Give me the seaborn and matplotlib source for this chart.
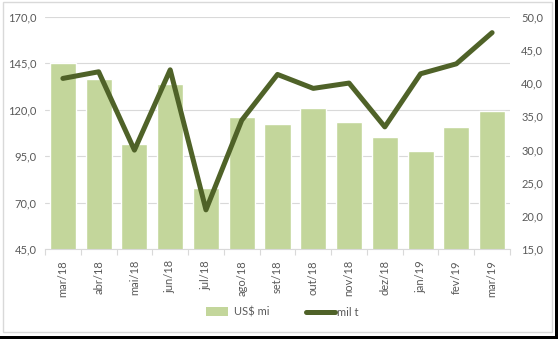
import matplotlib
matplotlib.use("Agg")
import matplotlib.pyplot as plt
import seaborn as sns
import pandas as pd
from matplotlib.patches import Rectangle
from matplotlib.lines import Line2D
from matplotlib.ticker import FixedLocator, FuncFormatter

months = ["mar/18", "abr/18", "mai/18", "jun/18", "jul/18", "ago/18", "set/18",
          "out/18", "nov/18", "dez/18", "jan/19", "fev/19", "mar/19"]
usd_mi = [145.0, 136.6, 101.6, 133.9, 77.7, 115.9, 112.1,
          120.7, 113.2, 105.1, 97.7, 110.5, 119.1]
mil_t = [40.7, 41.7, 29.9, 42.0, 20.9, 34.4, 41.3,
         39.2, 40.0, 33.4, 41.4, 42.9, 47.6]

bar_color = "#C3D69B"
line_color = "#4F6228"
text_color = "#595959"
grid_color = "#D9D9D9"

sns.set_theme(style="white")
plt.rcParams["font.family"] = ["Lato", "DejaVu Sans"]

df = pd.DataFrame({"mes": months, "US$ mi": usd_mi, "mil t": mil_t})
df["pos"] = range(len(months))

fig = plt.figure(figsize=(5.58, 3.39), dpi=100)
ax = fig.add_axes([45 / 558, 1 - 249 / 339, 465 / 558, (249 - 16.7) / 339])

sns.barplot(data=df, x="mes", y="US$ mi", color=bar_color, width=0.73,
            saturation=1, ax=ax, zorder=2)
ax.set_ylim(45, 170)
ax.set_xlim(-0.5, len(months) - 0.5)
ax.yaxis.set_major_locator(FixedLocator([45, 70, 95, 120, 145, 170]))
ax.yaxis.set_major_formatter(FuncFormatter(lambda v, p: f"{v:.1f}".replace(".", ",")))
ax.grid(axis="y", color=grid_color, linewidth=0.8, zorder=0)
ax.set_axisbelow(True)
ax.set_xlabel("")
ax.set_ylabel("")
for s in ["top", "right", "left"]:
    ax.spines[s].set_visible(False)
ax.spines["bottom"].set_color(grid_color)
ax.spines["bottom"].set_linewidth(0.8)
ax.tick_params(axis="y", length=0, labelsize=8, labelcolor=text_color, pad=6)
ax.tick_params(axis="x", which="major", length=0, labelsize=8,
               labelcolor=text_color, rotation=90, pad=8)
ax.set_xticks([i - 0.5 for i in range(len(months) + 1)], minor=True)
ax.tick_params(axis="x", which="minor", length=4, color=grid_color, width=0.8,
               bottom=True)

ax2 = ax.twinx()
sns.lineplot(data=df, x="pos", y="mil t", color=line_color, linewidth=3.6,
             ax=ax2, zorder=3, solid_capstyle="round", solid_joinstyle="round")
ax2.set_ylim(15, 50)
ax2.set_xlim(-0.5, len(months) - 0.5)
ax2.yaxis.set_major_locator(FixedLocator([15, 20, 25, 30, 35, 40, 45, 50]))
ax2.yaxis.set_major_formatter(FuncFormatter(lambda v, p: f"{v:.1f}".replace(".", ",")))
ax2.set_xlabel("")
ax2.set_ylabel("")
ax2.grid(False)
for s in ax2.spines.values():
    s.set_visible(False)
ax2.tick_params(axis="y", length=0, labelsize=8, labelcolor=text_color, pad=8)

# legend entries, one per series
leg1 = fig.legend([Rectangle((0, 0), 1, 1, facecolor=bar_color, edgecolor="none")],
                  ["US$ mi"], loc="center left",
                  bbox_to_anchor=(196 / 558, 1 - 312 / 339), frameon=False,
                  fontsize=8, labelcolor=text_color, handlelength=2.0,
                  handleheight=0.8, handletextpad=0.5)
leg2 = fig.legend([Line2D([0], [0], color=line_color, linewidth=3.6)],
                  ["mil t"], loc="center left",
                  bbox_to_anchor=(296 / 558, 1 - 312 / 339), frameon=False,
                  fontsize=8, labelcolor=text_color, handlelength=2.6,
                  handletextpad=0.15)

# chart frame and dark outer edge
fig.patches.append(Rectangle((3 / 558, 1 - 332 / 339), 549 / 558, 330 / 339,
                             transform=fig.transFigure, fill=False,
                             edgecolor="#D9D9D9", linewidth=1.0))
fig.patches.append(Rectangle((555 / 558, 0), 3 / 558, 1, transform=fig.transFigure,
                             facecolor="black", edgecolor="none"))
fig.patches.append(Rectangle((0, 0), 1, 3 / 339, transform=fig.transFigure,
                             facecolor="black", edgecolor="none"))

fig.savefig("out.png", dpi=100)
